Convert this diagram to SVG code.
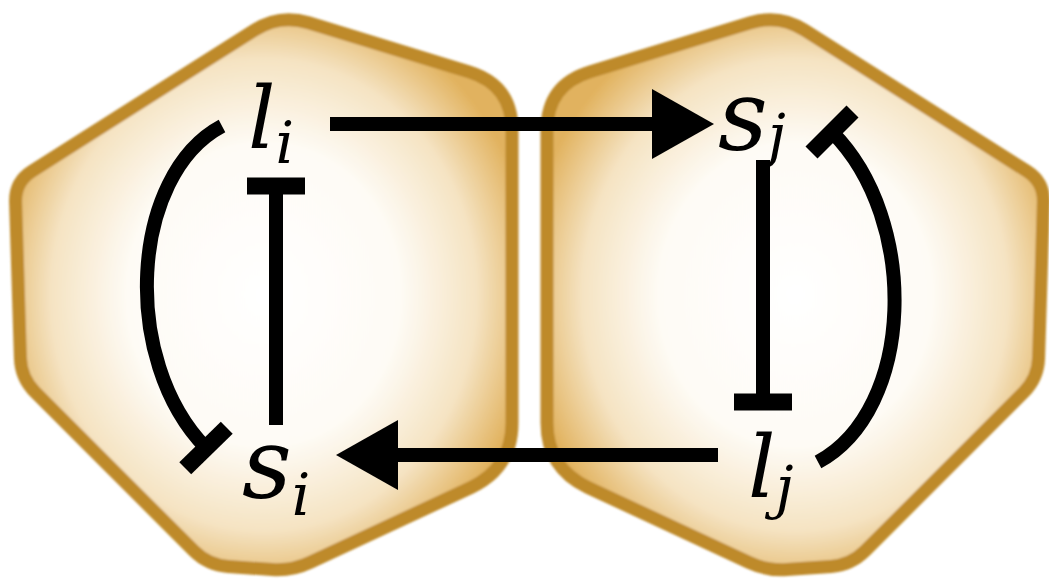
<svg xmlns="http://www.w3.org/2000/svg" width="1049" height="586" viewBox="0 0 1049 586">
  <defs>
    <radialGradient id="cellFill" cx="0.5" cy="0.5" r="0.55">
      <stop offset="0" stop-color="#ffffff"/>
      <stop offset="0.5" stop-color="#fefbf5"/>
      <stop offset="0.78" stop-color="#f5e3c2"/>
      <stop offset="1" stop-color="#e1b25e"/>
    </radialGradient>
    <filter id="soft" x="-5%" y="-5%" width="110%" height="110%">
      <feGaussianBlur stdDeviation="1"/>
    </filter>
    <marker id="arrow" markerUnits="userSpaceOnUse" markerWidth="70" markerHeight="80" refX="0" refY="0" viewBox="0 -40 70 80" orient="auto" overflow="visible">
      <path d="M0,-35 L62,0 L0,35 Z" fill="#000"/>
    </marker>
    <marker id="tbar" markerUnits="userSpaceOnUse" markerWidth="20" markerHeight="60" refX="0" refY="0" viewBox="-10 -30 20 60" orient="auto" overflow="visible">
      <rect x="-8.5" y="-29" width="17" height="58" fill="#000"/>
    </marker>
    <path id="cellShape" d="M 308.6,22.8 Q 280,14 254.7,30 L 31.9,171.3 Q 15,182 15.6,202 L 20.4,358 Q 21,378 35.1,392.1 L 193.9,550.9 Q 208,565 228,566.4 L 272,569.6 Q 292,571 310.1,562.4 L 471.3,487.3 Q 512,468 512,423 L 512,130 Q 512,85 469,71.9 Z"/>
  </defs>
  <style>
    .cell { fill: url(#cellFill); stroke: #be8a2c; stroke-width: 13; stroke-linejoin: round; }
    .edge { fill: none; stroke: #000; stroke-width: 14; }
    .lbl { font-family: "DejaVu Serif", serif; font-style: italic; fill: #000; }
    .big-l { font-size: 86px; }
    .big-s { font-size: 97px; }
    .sub { font-size: 58px; }
  </style>
  <rect width="1049" height="586" fill="#ffffff"/>
  <g id="cell-i">
    <use href="#cellShape" class="cell" filter="url(#soft)"/>
  </g>
  <g id="cell-j">
    <use href="#cellShape" class="cell" filter="url(#soft)" transform="translate(1059,0) scale(-1,1)"/>
  </g>
  <g id="connectors">
    <line class="edge" x1="330" y1="124" x2="652" y2="124" marker-end="url(#arrow)"/>
    <line class="edge" x1="718" y1="455" x2="398" y2="455" marker-end="url(#arrow)"/>
    <line class="edge" x1="276" y1="425" x2="276" y2="186" marker-end="url(#tbar)"/>
    <line class="edge" x1="763" y1="160" x2="763" y2="402" marker-end="url(#tbar)"/>
    <path class="edge" d="M 222,126 C 130,175 120,360 206,448" marker-end="url(#tbar)"/>
    <path class="edge" d="M 818,462 C 915,410 920,220 832,132" marker-end="url(#tbar)"/>
  </g>
  <g id="node-li">
    <text class="lbl big-l" x="248" y="148">l<tspan class="sub" dy="15">i</tspan></text>
  </g>
  <g id="node-sj">
    <text class="lbl big-s" x="718" y="150">s<tspan class="sub" dy="5">j</tspan></text>
  </g>
  <g id="node-si">
    <text class="lbl big-s" x="242" y="498">s<tspan class="sub" dy="17">i</tspan></text>
  </g>
  <g id="node-lj">
    <text class="lbl big-l" x="748" y="497">l<tspan class="sub" dy="10">j</tspan></text>
  </g>
</svg>
